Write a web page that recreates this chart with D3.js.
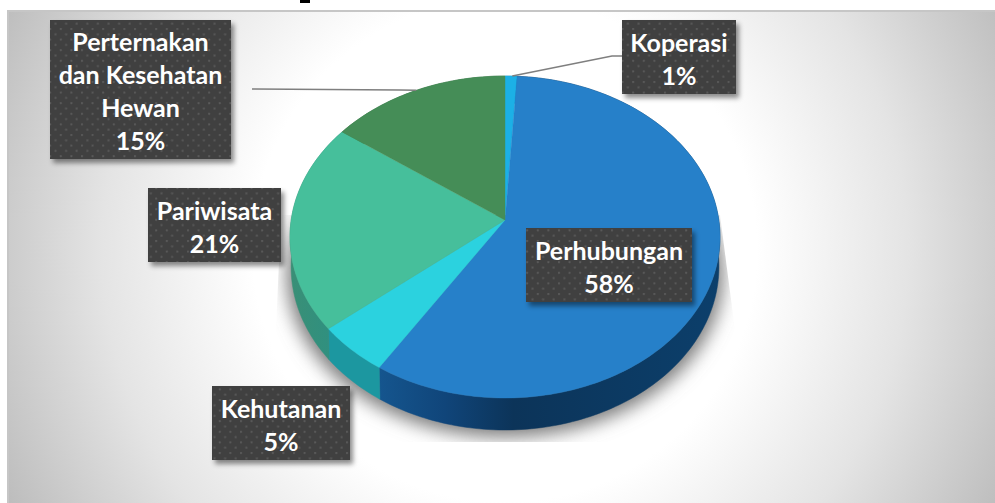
<!DOCTYPE html>
<html>
<head>
<meta charset="utf-8">
<script src="https://cdn.jsdelivr.net/npm/d3@7"></script>
<style>
  html, body { margin: 0; padding: 0; background: #fff; }
  svg { display: block; }
  text { font-family: Lato, "Open Sans", sans-serif; font-weight: 700; fill: #fff; }
</style>
</head>
<body>
<div id="chart"></div>
<script>
const categories = ['Koperasi', 'Perhubungan', 'Kehutanan', 'Pariwisata', 'Perternakan dan Kesehatan Hewan'];
const shares = [1, 58, 5, 21, 15];
const topColors = ['#1cb0e6', '#2680c9', '#2bd2df', '#46bf9b', '#458d57'];
const sideColors = ['#14789c', 'url(#blueSide)', '#1c97a0', 'url(#tealSide)', '#2f6a3d'];

// label text is split by hand like the source, box = x0,y0,x1,y1
const labelLines = [
  ['Koperasi', '1%'],
  ['Perhubungan', '58%'],
  ['Kehutanan', '5%'],
  ['Pariwisata', '21%'],
  ['Perternakan', 'dan Kesehatan', 'Hewan', '15%']
];
const labelBoxes = [
  [622, 20, 736, 94],
  [526, 228, 692, 302],
  [212, 386, 350, 460],
  [148, 188, 281, 262],
  [50, 20, 231, 159]
];

const W = 995, H = 503;
const cx = 505, cy = 220;
const persp = -0.1056, rx = 213.8, ry = 159.2;

const svg = d3.select('#chart').append('svg').attr('width', W).attr('height', H);
const defs = svg.append('defs');

const bg = defs.append('radialGradient').attr('id', 'panelBg')
  .attr('gradientUnits', 'userSpaceOnUse')
  .attr('cx', 505).attr('cy', 250).attr('r', 560);
[[0, '#ffffff'], [0.45, '#ffffff'], [0.72, '#e4e4e4'], [1, '#bcbcbc']].forEach(([o, c]) => {
  bg.append('stop').attr('offset', o).attr('stop-color', c);
});

function sideGradient(id, stops) {
  const g = defs.append('linearGradient').attr('id', id)
    .attr('gradientUnits', 'userSpaceOnUse')
    .attr('x1', 290).attr('x2', 720).attr('y1', 0).attr('y2', 0);
  stops.forEach(([o, c]) => g.append('stop').attr('offset', o).attr('stop-color', c));
}
sideGradient('blueSide', [[0.2, '#15568f'], [0.36, '#10457a'], [0.52, '#0c3459'], [1, '#0c3f6b']]);
sideGradient('tealSide', [[0, '#3a8f76'], [0.1, '#2f9080']]);

const dots = defs.append('pattern').attr('id', 'dots')
  .attr('patternUnits', 'userSpaceOnUse').attr('width', 10.6).attr('height', 10.6);
dots.append('rect').attr('width', 10.6).attr('height', 10.6).attr('fill', '#3f3f3f');
[[1.5, 1.5], [6.8, 6.8]].forEach(([x, y]) => {
  dots.append('rect').attr('x', x).attr('y', y).attr('width', 2).attr('height', 2).attr('fill', '#5a5a5a');
});

const blur = defs.append('filter').attr('id', 'pieShadow')
  .attr('x', '-20%').attr('y', '-20%').attr('width', '140%').attr('height', '140%');
blur.append('feGaussianBlur').attr('stdDeviation', 9);

const boxShadow = defs.append('filter').attr('id', 'boxShadow')
  .attr('x', '-10%').attr('y', '-10%').attr('width', '125%').attr('height', '130%');
boxShadow.append('feDropShadow').attr('dx', 3).attr('dy', 4).attr('stdDeviation', 2.5)
  .attr('flood-color', '#000').attr('flood-opacity', 0.45);

defs.append('clipPath').attr('id', 'shadowClip').append('polygon')
  .attr('points', '281,215 276,330 300,442 700,442 735,330 720,215');

// page edge, clipped title glyph and panel
svg.append('rect').attr('x', 300).attr('y', 0).attr('width', 10).attr('height', 3).attr('fill', '#000');
svg.append('rect').attr('x', 7).attr('y', 10).attr('width', W - 7).attr('height', H - 10)
  .attr('fill', 'url(#panelBg)');
svg.append('path').attr('d', `M8,${H}V11H${W}`).attr('fill', 'none')
  .attr('stroke', '#c6c6c6').attr('stroke-width', 2);

// maps a point on the unit disc to the tilted screen plane
function project(angle, r) {
  const u = r * Math.sin(angle), v = -r * Math.cos(angle);
  const w = 1 + persp * v;
  return [cx + rx * u / w, cy + ry * v / w];
}
// the lower rim of the slab
function projectLow(angle) {
  const [x, y] = project(angle, 1);
  const v = -Math.cos(angle);
  return [cx + (x - cx) * 0.995, y + 27 + 5 * (v + 1) / 2];
}
function rimAngles(a0, a1) {
  const n = Math.max(2, Math.ceil((a1 - a0) / 0.02));
  return d3.range(n + 1).map((i) => a0 + (a1 - a0) * i / n);
}

const pieLayout = d3.pie().sort(null).value((d) => d)(shares);
const line = d3.line();

// soft shadow under the slab
svg.append('g').attr('clip-path', 'url(#shadowClip)').append('path')
  .attr('d', line(rimAngles(0, 2 * Math.PI).map((a) => {
    const [x, y] = projectLow(a);
    return [cx + (x - cx) * 1.02, y + 7];
  })) + 'Z')
  .attr('fill', '#7c7c7c').attr('filter', 'url(#pieShadow)');

// side walls
svg.append('g').selectAll('path').data(pieLayout).join('path')
  .attr('d', (d) => {
    const as = rimAngles(d.startAngle, d.endAngle);
    return line(as.map((a) => project(a, 1)).concat(as.slice().reverse().map(projectLow))) + 'Z';
  })
  .attr('fill', (d, i) => sideColors[i])
  .attr('stroke', (d, i) => sideColors[i]).attr('stroke-width', 0.5);

// top faces
svg.append('g').selectAll('path').data(pieLayout).join('path')
  .attr('d', (d) => line([[cx, cy]].concat(rimAngles(d.startAngle, d.endAngle).map((a) => project(a, 1)))) + 'Z')
  .attr('fill', (d, i) => topColors[i])
  .attr('stroke', (d, i) => topColors[i]).attr('stroke-width', 0.4);

// leader lines
const leader = d3.line();
const rimPoint = (d, f) => project(d.startAngle + (d.endAngle - d.startAngle) * f, 1);
svg.append('path')
  .attr('d', leader([[622, 56], [612, 56], rimPoint(pieLayout[0], 0.6)]))
  .attr('fill', 'none').attr('stroke', '#7f7f7f').attr('stroke-width', 1.5);
svg.append('path')
  .attr('d', leader([[252, 89], [400, 90], rimPoint(pieLayout[4], 0.5)]))
  .attr('fill', 'none').attr('stroke', '#7f7f7f').attr('stroke-width', 1.5);

// data labels
const label = svg.append('g').selectAll('g').data(labelBoxes).join('g');
label.append('rect')
  .attr('x', (b) => b[0]).attr('y', (b) => b[1])
  .attr('width', (b) => b[2] - b[0]).attr('height', (b) => b[3] - b[1])
  .attr('fill', 'url(#dots)').attr('filter', 'url(#boxShadow)');
label.each(function (b, i) {
  const lines = labelLines[i];
  const lh = 33;
  const midX = (b[0] + b[2]) / 2, midY = (b[1] + b[3]) / 2;
  d3.select(this).selectAll('text').data(lines).join('text')
    .attr('x', midX)
    .attr('y', (t, j) => midY + 2 + (j - (lines.length - 1) / 2) * lh)
    .attr('dy', '0.36em')
    .attr('text-anchor', 'middle')
    .attr('font-size', 25)
    .text((t) => t);
});
</script>
</body>
</html>
